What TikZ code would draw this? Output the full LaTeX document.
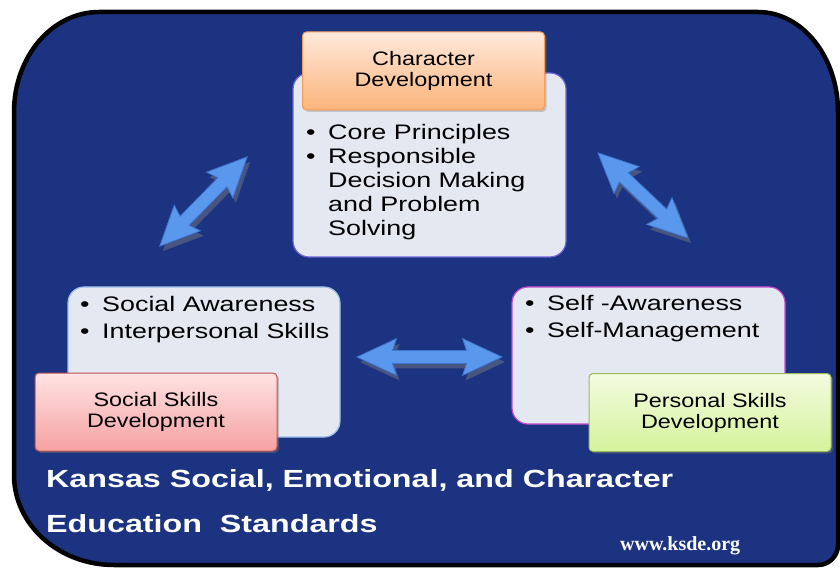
\documentclass[tikz,border=0pt]{standalone}
\usepackage{fontspec}
\setmainfont{Liberation Sans}[FakeStretch=1.2]
\newfontfamily\listfont{Liberation Sans}[FakeStretch=1.28]
\newfontfamily\titlefont{Liberation Sans}[FakeStretch=1.3]
\newfontfamily\urlfont{Liberation Serif}
\usetikzlibrary{shapes.arrows,shadows,positioning}

\definecolor{bgblue}{HTML}{1B3380}
\definecolor{boxgray}{HTML}{E4E8F1}
\definecolor{charedge}{HTML}{6F63D8}
\definecolor{socedge}{HTML}{9DBDE8}
\definecolor{peredge}{HTML}{C64BD0}
\definecolor{orangetop}{HTML}{FEE9DC}
\definecolor{orangebot}{HTML}{FBB47A}
\definecolor{orangeedge}{HTML}{F39C56}
\definecolor{redtop}{HTML}{FFE3E3}
\definecolor{redbot}{HTML}{F5A1A1}
\definecolor{rededge}{HTML}{C0504D}
\definecolor{greentop}{HTML}{F3FBE0}
\definecolor{greenbot}{HTML}{D5F39C}
\definecolor{greenedge}{HTML}{9BBB59}
\definecolor{arrowblue}{HTML}{5A98EE}
\definecolor{arrowedge}{HTML}{3F74CC}

\begin{document}
\begin{tikzpicture}[x=1pt, y=1pt,
    descbox/.style={draw, line width=1.2pt, fill=boxgray, rounded corners=16pt, inner sep=0pt},
    labbox/.style={draw, line width=1pt, rounded corners=4pt, inner sep=0pt, minimum width=242pt, minimum height=78pt, align=center,
        font=\fontsize{19.5}{21}\selectfont, drop shadow={opacity=0.35, shadow xshift=2pt, shadow yshift=-2pt}},
    bullets/.style={anchor=base west, inner sep=0pt},
    title/.style={anchor=base west, inner sep=0pt, text=white, font=\titlefont\bfseries\fontsize{24.8}{26}\selectfont},
    dblarrow/.style={double arrow, fill=arrowblue, draw=arrowedge, line width=0.8pt, inner xsep=0pt, inner ysep=6pt,
        text height=0pt, text depth=0pt, double arrow head extend=12pt, double arrow tip angle=50, double arrow head indent=4pt,
        drop shadow={opacity=0.45, shadow xshift=3pt, shadow yshift=-5pt}}]
    \useasboundingbox (0,0) rectangle (840,568);
    \clip (0,0) rectangle (840,568);

    % background panel
    \draw[line width=4.5pt, fill=bgblue] (14,456) -- (14,93) arc[start angle=180, end angle=270, x radius=100, y radius=90]
        -- (818,3) arc[start angle=270, end angle=360, radius=20] -- (838,456)
        arc[start angle=0, end angle=90, x radius=80, y radius=100] -- (99,556)
        arc[start angle=90, end angle=180, x radius=85, y radius=100] -- cycle;

    % content boxes
    \node[descbox, draw=charedge, minimum width=273pt, minimum height=184pt] (chardesc) at (429.5,403) {};
    \node[descbox, draw=socedge, minimum width=272pt, minimum height=150pt] (socdesc) at (204,206) {};
    \node[descbox, draw=peredge, minimum width=273pt, minimum height=137pt] (perdesc) at (648.5,212.5) {};

    % bullet lists
    \node[bullets, font=\listfont\fontsize{21}{24}\selectfont] (charlist) at (306,428)
        {\begin{tabular}[t]{@{}l@{}l@{}}\makebox[22pt][l]{\textbullet} & Core Principles\\ \textbullet & Responsible\\
         & Decision Making\\ & and Problem\\ & Solving\end{tabular}};
    \node[bullets, font=\listfont\fontsize{21}{27}\selectfont] (soclist) at (80,256)
        {\begin{tabular}[t]{@{}l@{}l@{}}\makebox[22pt][l]{\textbullet} & Social Awareness\\ \textbullet & Interpersonal Skills\end{tabular}};
    \node[bullets, font=\listfont\fontsize{21}{27}\selectfont] (perlist) at (525,257)
        {\begin{tabular}[t]{@{}l@{}l@{}}\makebox[22pt][l]{\textbullet} & Self -Awareness\\ \textbullet & Self-Management\end{tabular}};

    % label boxes
    \node[labbox, top color=orangetop, bottom color=orangebot, draw=orangeedge] (charlab) at (423.5,497) {Character\\Development};
    \node[labbox, top color=redtop, bottom color=redbot, draw=rededge] (soclab) at (156,156) {Social Skills\\Development};
    \node[labbox, top color=greentop, bottom color=greenbot, draw=greenedge] (perlab) at (710,155.5) {Personal Skills\\Development};

    % arrows
    \foreach \cx/\cy/\len/\ang [count=\i] in {203.5/366.5/125/45.6, 643/372.5/124/-43.4, 429.5/211/145/0}
        \node[dblarrow, minimum height=\len pt, rotate=\ang] (arrow\i) at (\cx,\cy) {};

    % title
    \node[title] (title1) at (46,81) {Kansas Social, Emotional, and Character};
    \node[title] (title2) at ([yshift=-45pt]title1.base west) {Education\ \ Standards};
    \node[anchor=base west, inner sep=0pt, text=white, font=\urlfont\bfseries\fontsize{20}{22}\selectfont] (url) at (620,18) {www.ksde.org};
\end{tikzpicture}
\end{document}
